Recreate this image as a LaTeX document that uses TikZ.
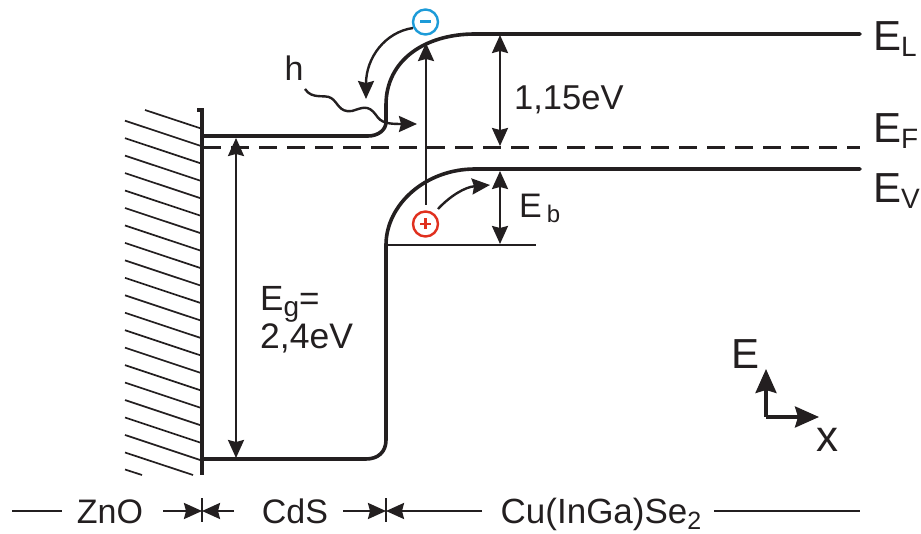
\documentclass[tikz,border=0pt]{standalone}
\usepackage{fontspec}
\setmainfont{Liberation Sans}
\usetikzlibrary{arrows.meta,decorations.pathmorphing}
\definecolor{ink}{HTML}{231F20}
\definecolor{minusblue}{HTML}{1D9BD8}
\definecolor{plusred}{HTML}{E0301E}
\newcommand{\fs}[1]{\fontsize{#1}{#1}\selectfont}
\newcommand{\lvl}[2]{\fs{42}#1\raisebox{-6pt}{\fs{28}#2}}
\tikzset{
  x=1pt,y=-1pt,
  band/.style={ink,line width=3.6pt,line cap=round},
  thin band/.style={ink,line width=2.4pt},
  hatch/.style={ink,line width=1.7pt},
  fermi/.style={ink,line width=3.4pt,dash pattern=on 18pt off 10pt},
  arr/.style={ink,line width=2.4pt,-{Stealth[length=18pt,width=16pt,inset=2pt]}},
  darr/.style={ink,line width=2.4pt,{Stealth[length=18pt,width=16pt,inset=2pt]}-{Stealth[length=18pt,width=16pt,inset=2pt]}},
  garr/.style={ink,line width=2.4pt,-{Stealth[length=18pt,width=16pt,inset=2pt]}},
  axisarr/.style={ink,line width=3.4pt,-{Stealth[length=24pt,width=21pt,inset=3pt]}},
  lab/.style={ink,inner sep=0pt,anchor=base,font=\fs{34}},
  biglab/.style={ink,inner sep=0pt,anchor=base west},
  charge/.style={circle,draw,line width=2.4pt,minimum size=25pt,inner sep=0pt,fill=white},
  tick/.style={ink,line width=1.7pt},
  dimline/.style={ink,line width=2.4pt},
}
\begin{document}
\begin{tikzpicture}
\useasboundingbox (0,0) rectangle (921,534);
% hatching
\draw[hatch] (145,110) -- (201,128.5);
\foreach \k in {0,...,18}{
  \pgfmathsetmacro{\ya}{120.7+17.46*\k}
  \draw[hatch] (125,\ya) -- (201,\ya+25.3);
}
\draw[hatch] (125,452.5) -- (193,475);
\draw[hatch] (125,469.5) -- (142,475);
% wall
\coordinate (wallT) at (202,110);
\coordinate (wallB) at (202,475);
\draw[ink,line width=3.4pt] (197,110) -- (wallT) -- (wallB);
% bands
\draw[band] (203,136) -- (368,136) .. controls (378,136) and (386,130) .. (386,122)
  -- (386,105) .. controls (386,60) and (425,34) .. (475,34) -- (860,34);
\draw[fermi] (203,147.5) -- (860,147.5);
\draw[band] (860,169) -- (475,169) .. controls (425,169) and (386,205) .. (386,245)
  -- (386,440) .. controls (386,452) and (378,459) .. (366,459) -- (203,459);
\draw[thin band] (386,245) -- (536,245);
% charges
\node[charge,draw=minusblue] (minus) at (425.5,22) {};
\draw[minusblue,line width=3pt] (420,22) -- (431,22);
\node[charge,draw=plusred] (plus) at (425.5,224) {};
\draw[plusred,line width=2.6pt] (420,224) -- (431,224) (425.5,218.5) -- (425.5,229.5);
% vertical arrows
\coordinate (exT) at (426,43);
\coordinate (exB) at (426,205);
\draw[arr] (exB) -- (exT);
\coordinate (a1) at (500,35);
\coordinate (a2) at (500,146);
\draw[darr] (a1) -- (a2);
\coordinate (b1) at (500,171);
\coordinate (b2) at (500,244);
\draw[darr] (b1) -- (b2);
\coordinate (g1) at (236,138);
\coordinate (g2) at (236,458);
\draw[darr] (g1) -- (g2);
% curved arrows
\coordinate (fallS) at (413,28);
\coordinate (fallEnd) at (366,99);
\draw[garr] (fallS) .. controls (385,32) and (366,58) .. (fallEnd);
\coordinate (riseS) at (438,209);
\coordinate (riseE) at (490,185);
\draw[garr] (riseS) .. controls (450,196) and (465,187) .. (riseE);
% photon
\coordinate (photonE) at (417,124);
\draw[garr] (305,89) .. controls (312,100) and (325,94) .. (331,98)
  .. controls (338,102) and (339,113) .. (352,111)
  .. controls (362,108) and (368,104) .. (376,115)
  .. controls (381,123) and (388,124) .. (photonE);
% labels
\node[lab] (h) at (294,81) {h};
\node[biglab,font=\fs{34.5}] (ev) at (514,110) {1,15eV};
\node[biglab] (el) at (873,51) {\lvl{E}{L}};
\node[biglab] (ef) at (873,143) {\lvl{E}{F}};
\node[biglab] (evv) at (873,203) {\lvl{E}{V}};
\node[biglab,font=\fs{34}] (eb) at (519,218) {E\hspace{5pt}\raisebox{-5pt}{\fs{24}b}};
\node[biglab,font=\fs{35}] (eg) at (260,311) {E\raisebox{-6pt}{\fs{28}g}=};
\node[biglab,font=\fs{35.5}] (eg2) at (260,349) {2,4eV};
% axes
\coordinate (o) at (766,417);
\coordinate (ax) at (819,417);
\coordinate (ay) at (766,369);
\draw[axisarr] (o) -- (ax);
\draw[axisarr] (o) -- (ay);
\node[biglab,font=\fs{42}] (E) at (731,369) {E};
\node[biglab,font=\fs{44}] (X) at (816,451) {x};
% bottom scale
\node[lab] (zno) at (110,523) {ZnO};
\node[lab] (cds) at (295,523) {CdS};
\node[lab,font=\fs{35}] (cu) at (601,523) {Cu(InGa)Se\raisebox{-6pt}{\fs{25}2}};
\coordinate (t1) at (202,511);
\coordinate (t2) at (386,511);
\coordinate (l0) at (12,511);
\coordinate (l1) at (62,511);
\coordinate (r1) at (714,511);
\coordinate (r2) at (860,511);
\draw[dimline] (l0) -- (l1);
\draw[dimline] (r1) -- (r2);
\draw[tick] (202,498) -- (202,522);
\draw[tick] (386,498) -- (386,522);
\draw[arr] (163,511) -- (t1);
\draw[arr] (234,511) -- (t1);
\draw[arr] (343,511) -- (t2);
\draw[arr] (482,511) -- (t2);
\end{tikzpicture}
\end{document}
